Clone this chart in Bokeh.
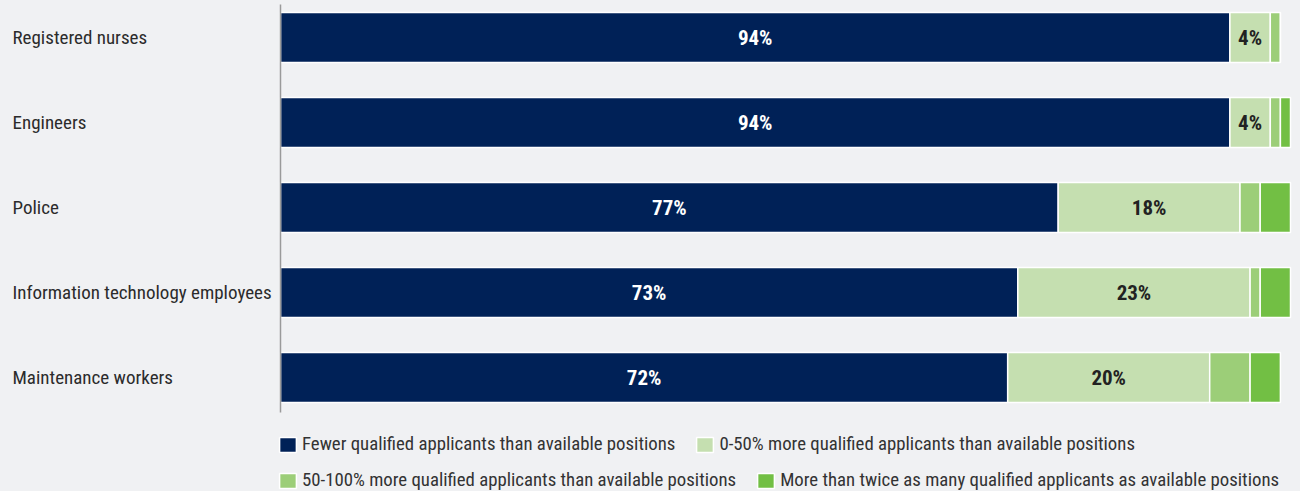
from bokeh.plotting import figure
from bokeh.models import ColumnDataSource, Range1d, Legend, LegendItem
from bokeh.core.properties import value
from bokeh.embed import file_html
from bokeh.resources import INLINE

# ---- data ----
categories = ["Registered nurses", "Engineers", "Police",
              "Information technology employees", "Maintenance workers"]
fewer = [94, 94, 77, 73, 72]
more_0_50 = [4, 4, 18, 23, 20]
more_50_100 = [1, 1, 2, 1, 4]
more_twice = [0, 1, 3, 3, 3]
series_names = [
    "Fewer qualified applicants than available positions",
    "0-50% more qualified applicants than available positions",
    "50-100% more qualified applicants than available positions",
    "More than twice as many qualified applicants as available positions",
]
colors = ["#002157", "#C5DFB0", "#9CCE78", "#72BF44"]
BG = "#F0F1F3"
FONT = "'Roboto Condensed', 'Open Sans Condensed', 'DejaVu Sans Condensed', 'Liberation Sans Narrow', Roboto"

# ---- layout constants ----
W, H = 1300, 491
PX = 10.1      # pixels per percentage point
AX = 280       # x pixel of the zero line
ROW = 85       # pixels per row
ROW0 = 37      # pixel center of first row

keys = ["fewer", "m050", "m50100", "twice"]
ys = list(range(len(categories)))
src = ColumnDataSource(dict(y=ys, cat=categories, fewer=fewer, m050=more_0_50,
                            m50100=more_50_100, twice=more_twice))

p = figure(width=W, height=H,
           x_range=Range1d(-AX / PX, (W - AX) / PX),
           y_range=Range1d((H - ROW0) / ROW, -ROW0 / ROW),
           x_axis_location=None, y_axis_location=None,
           output_backend="svg", toolbar_location=None, min_border=0)
p.grid.visible = False
p.outline_line_color = None
p.background_fill_color = BG
p.border_fill_color = BG

renderers = p.hbar_stack(keys, y="y", height=0.59, color=colors, source=src,
                         line_color="white", line_width=1.5)

# zero line
p.segment(x0=[0], y0=[(4 - ROW0) / ROW], x1=[0], y1=[(412 - ROW0) / ROW],
          line_color="#9A9A9A", line_width=1.5)

# category labels
p.text(x=[(12 - AX) / PX] * len(categories), y=ys, text=categories,
       text_align="left", text_baseline="middle", text_color="#2B2B2B",
       text_font=value(FONT), text_font_size="19px")

# value labels
lab1 = ColumnDataSource(dict(x=[v / 2 for v in fewer], y=ys,
                             t=[f"{v}%" for v in fewer]))
lab2 = ColumnDataSource(dict(x=[a + b / 2 for a, b in zip(fewer, more_0_50)], y=ys,
                             t=[f"{v}%" for v in more_0_50]))
p.text(x="x", y="y", text="t", source=lab1, text_align="center",
       text_baseline="middle", text_color="white", text_font=value(FONT),
       text_font_size="21px", text_font_style="bold")
p.text(x="x", y="y", text="t", source=lab2, text_align="center",
       text_baseline="middle", text_color="#222222", text_font=value(FONT),
       text_font_size="21px", text_font_style="bold")

# legends (two flowing rows)
items = [LegendItem(label=n, renderers=[r]) for n, r in zip(series_names, renderers)]
for its, loc in ((items[:2], (277, 36)), (items[2:], (277, 0))):
    lg = Legend(items=its, orientation="horizontal", location=loc,
                glyph_width=21, glyph_height=19, label_standoff=4, spacing=19,
                label_height=22, label_text_font=FONT, label_text_font_size="18.8px",
                label_text_color="#333333", padding=0, margin=0,
                background_fill_alpha=0, border_line_alpha=0)
    p.add_layout(lg, "center")

html = file_html(p, INLINE)
html = html.replace("</head>", "<style>body{background-color:%s;}</style></head>" % BG, 1)
open("out.html", "w").write(html)
